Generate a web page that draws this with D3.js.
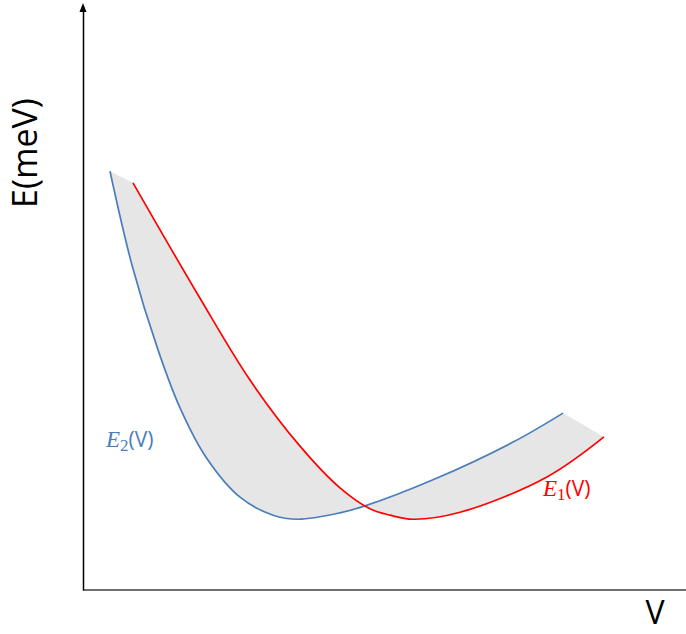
<!DOCTYPE html>
<html>
<head>
<meta charset="utf-8">
<script src="https://cdn.jsdelivr.net/npm/d3@7"></script>
<style>
  html, body { margin: 0; padding: 0; background: #fff; }
  svg { display: block; }
</style>
</head>
<body>
<svg id="chart" width="686" height="634"></svg>
<script>
// Energy branches E2(V) (blue) and E1(V) (red), arbitrary units
const e2V = [4.5, 8.17, 12.5, 16.17, 20.5, 26.17, 31.67, 35.83, 42.83, 47.0, 58.33, 71.67, 80.0];
const e2E = [72.2, 56.0, 41.4, 31.4, 22.9, 16.0, 12.9, 12.2, 13.3, 14.5, 19.0, 25.5, 30.5];
const e1V = [8.33, 19.5, 27.83, 36.17, 42.83, 47.83, 51.17, 55.0, 62.83, 77.33, 86.83];
const e1E = [70.2, 50.3, 36.2, 24.8, 17.6, 14.0, 12.9, 12.2, 13.4, 19.5, 26.4];
const xTicks = [];
const yTicks = [];

const svg = d3.select("#chart");
const x0 = 83, x1 = 683, y0 = 590, y1 = 10;

const x = d3.scaleLinear().domain([0, 100]).range([x0, x1]);
const y = d3.scaleLinear().domain([0, 100]).range([y0, y1]);

const e2 = e2V.map((v, i) => [v, e2E[i]]);
const e1 = e1V.map((v, i) => [v, e1E[i]]);

const line = d3.line()
  .x(d => x(d[0]))
  .y(d => y(d[1]))
  .curve(d3.curveCatmullRom.alpha(0.5));

// Shaded band between the two branches, closed by straight end segments
const bandPath = line(e2) + line(e1.slice().reverse()).replace(/^M/, "L") + "Z";
svg.append("path")
  .attr("d", bandPath)
  .attr("fill", "#e6e6e6")
  .attr("stroke", "none");

svg.append("path")
  .attr("d", line(e2))
  .attr("fill", "none")
  .attr("stroke", "#4a7ebb")
  .attr("stroke-width", 1.7);

svg.append("path")
  .attr("d", line(e1))
  .attr("fill", "none")
  .attr("stroke", "#ff0000")
  .attr("stroke-width", 1.7);

// Axes
const xAxis = d3.axisBottom(x).tickValues(xTicks).tickSizeOuter(0);
const yAxis = d3.axisLeft(y).tickValues(yTicks).tickSizeOuter(0);

const gx = svg.append("g").attr("transform", `translate(0,${y0})`).call(xAxis);
gx.select(".domain")
  .attr("d", `M${x0},0H686`)
  .attr("stroke", "#404040")
  .attr("stroke-width", 1.5);

const gy = svg.append("g").attr("transform", `translate(${x0},0)`).call(yAxis);
gy.select(".domain")
  .attr("stroke", "#000")
  .attr("stroke-width", 1.5);

// Arrow head on the energy axis
svg.append("path")
  .attr("d", `M${x0},3L${x0 - 3.5},12L${x0 + 3.5},12Z`)
  .attr("fill", "#000");

// Axis titles
svg.append("text")
  .attr("transform", "translate(37,153) rotate(-90)")
  .attr("text-anchor", "middle")
  .attr("font-family", "Open Sans, sans-serif")
  .attr("font-size", 34)
  .attr("fill", "#000")
  .text("E(meV)");

svg.append("text")
  .attr("x", 655)
  .attr("y", 624)
  .attr("text-anchor", "middle")
  .attr("font-family", "Open Sans, sans-serif")
  .attr("font-size", 32)
  .attr("fill", "#000")
  .text("V");

// Curve labels
function curveLabel(px, py, sub, color) {
  const t = svg.append("text")
    .attr("x", px)
    .attr("y", py)
    .attr("fill", color)
    .attr("font-size", 21);
  t.append("tspan")
    .attr("font-family", "Liberation Serif, serif")
    .attr("font-style", "italic")
    .attr("font-size", 23)
    .text("E");
  t.append("tspan")
    .attr("font-family", "Liberation Serif, serif")
    .attr("font-size", 17)
    .attr("dy", 4)
    .text(sub);
  t.append("tspan")
    .attr("font-family", "Open Sans, sans-serif")
    .attr("dy", -4)
    .text("(V)");
}
curveLabel(106, 447, "2", "#4a7ebb");
curveLabel(543, 496, "1", "#ff0000");
</script>
</body>
</html>
